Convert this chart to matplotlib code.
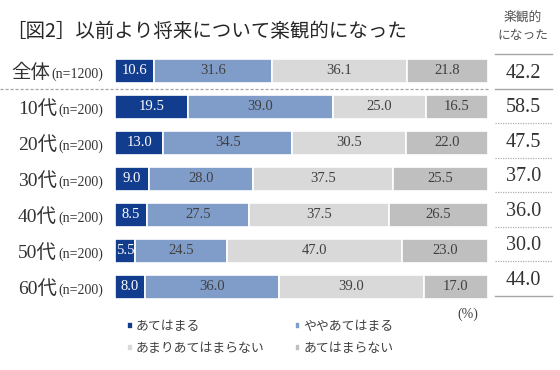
import numpy as np
import matplotlib
matplotlib.use("Agg")
import matplotlib.pyplot as plt
import matplotlib.transforms as mtransforms

plt.rcParams['font.family'] = ['Noto Sans CJK JP', 'DejaVu Sans']
SERIF = ['Liberation Serif', 'Noto Sans CJK JP']

# data
groups = ["全体", "10代", "20代", "30代", "40代", "50代", "60代"]
sizes = ["(n=1200)", "(n=200)", "(n=200)", "(n=200)", "(n=200)", "(n=200)", "(n=200)"]
answers = ["あてはまる", "ややあてはまる", "あまりあてはまらない", "あてはまらない"]
atehamaru = [10.6, 19.5, 13.0, 9.0, 8.5, 5.5, 8.0]
yaya = [31.6, 39.0, 34.5, 28.0, 27.5, 24.5, 36.0]
amari = [36.1, 25.0, 30.5, 37.5, 37.5, 47.0, 39.0]
atehamaranai = [21.8, 16.5, 22.0, 25.5, 26.5, 23.0, 17.0]
optimistic = [42.2, 58.5, 47.5, 37.0, 36.0, 30.0, 44.0]

colors = ["#123d8f", "#809dca", "#d9d9d9", "#bfbfbf"]
txt_colors = ["white", "#404040", "#404040", "#404040"]
W, H = 560, 370

fig = plt.figure(figsize=(W / 100, H / 100), dpi=100)
ax = fig.add_axes([115 / W, 1 - 305 / H, 373 / W, 252 / H])

series = [atehamaru, yaya, amari, atehamaranai]
y = np.arange(len(groups))
left = np.zeros(len(groups))
bars = []
for vals, c, tc, name in zip(series, colors, txt_colors, answers):
    vals = np.array(vals)
    b = ax.barh(y, vals, left=left, height=0.67, color=c, edgecolor="white",
                linewidth=1.2, label=name)
    bars.append(b)
    for yi, l, v in zip(y, left, vals):
        ax.text(l + v / 2, yi, f"{v:.1f}", ha="center", va="center",
                fontsize=10.5, color=tc, family=SERIF)
    left += vals

ax.set_xlim(0, left.max())
ax.set_ylim(len(groups) - 0.5, -0.5)
ax.axis("off")

# dashed separator under the total row
sep = mtransforms.blended_transform_factory(fig.transFigure, ax.transData)
ax.plot([0, 490 / W], [0.5, 0.5], transform=sep, ls=(0, (2.5, 1.5)),
        color="#a6a6a6", lw=0.9, clip_on=False)

# row labels: big group name + small sample size
fig.canvas.draw()
renderer = fig.canvas.get_renderer()
x_end = 103
for yi, g, s in zip(y, groups, sizes):
    t = ax.text(x_end / W, yi + 0.2, s, transform=sep, ha="right", va="baseline",
                fontsize=10, color="#333333", family=SERIF)
    w = t.get_window_extent(renderer).width
    ax.text((x_end - w - 1) / W, yi + 0.2, g, transform=sep, ha="right",
            va="baseline", fontsize=14, color="#333333", family=SERIF)

# right column
tax = fig.add_axes([495 / W, 1 - 296 / H, 57 / W, 242 / H])
tax.set_xlim(0, 1)
tax.set_ylim(len(groups), 0)
tax.axis("off")
for i, v in enumerate(optimistic):
    tax.text(0.5, i + 0.55, f"{v:.1f}", ha="center", va="center", fontsize=14.5,
             color="#333333", family=SERIF)
for k in range(len(groups) + 1):
    if k in (0, 1, len(groups)):
        tax.plot([0, 1], [k, k], color="#a6a6a6", lw=1.0, clip_on=False)
    else:
        tax.plot([0, 1], [k, k], color="#b0b0b0", lw=0.9, ls=(0, (1, 1)),
                 clip_on=False)

fig.text(523 / W, 1 - 17 / H, "楽観的", ha="center", va="center", fontsize=9.2,
         color="#555555")
fig.text(523 / W, 1 - 36 / H, "になった", ha="center", va="center", fontsize=9.2,
         color="#555555")

fig.text(6 / W, 1 - 31 / H, "［図2］以前より将来について楽観的になった", ha="left",
         va="center", fontsize=14, color="#262626")

fig.text(468 / W, 1 - 314 / H, "(%)", ha="center", va="center", fontsize=10,
         color="#404040", family=SERIF)

handles = [bars[0], bars[2], bars[1], bars[3]]
labels = [answers[0], answers[2], answers[1], answers[3]]
fig.legend(handles, labels, ncol=2, loc="upper left",
           bbox_to_anchor=(127 / W, 1 - 320 / H), frameon=False, fontsize=9.3,
           handlelength=0.45, handleheight=0.45, handletextpad=0.25,
           columnspacing=2.3, labelspacing=0.7, labelcolor="#404040",
           borderpad=0, borderaxespad=0)

fig.savefig("out.png", dpi=100, facecolor="white")
